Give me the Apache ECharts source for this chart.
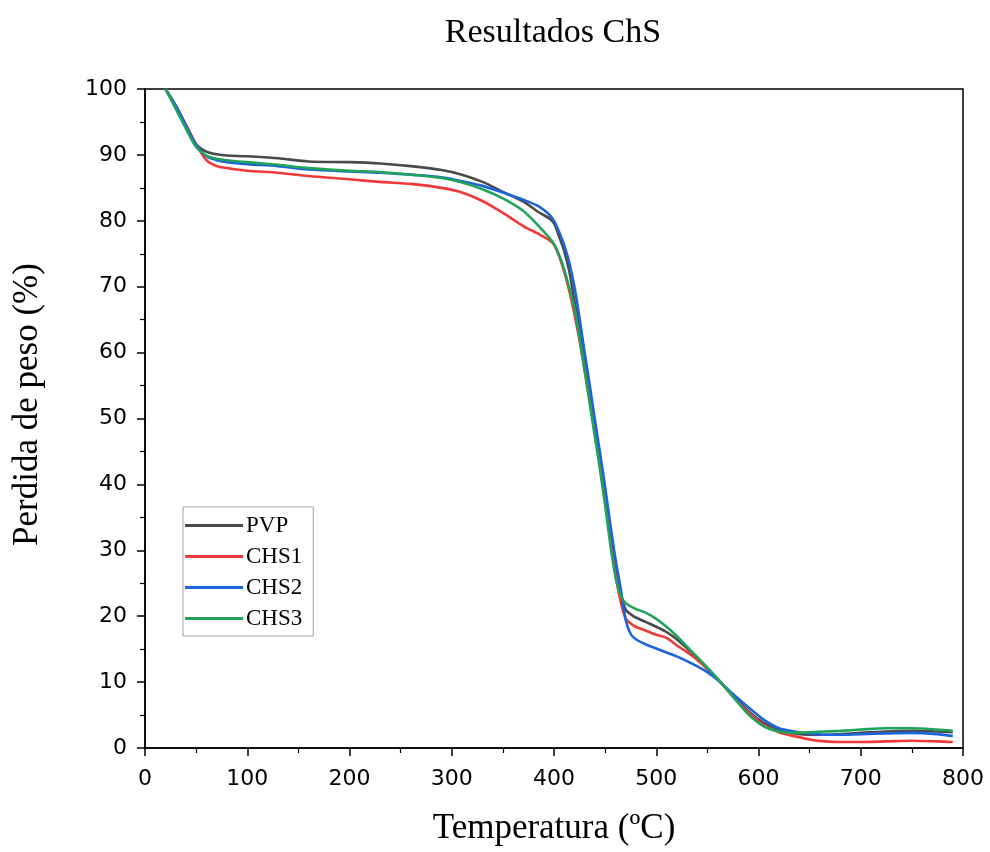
<!DOCTYPE html>
<html>
<head>
<meta charset="utf-8">
<script src="https://cdn.jsdelivr.net/npm/echarts@6/dist/echarts.min.js"></script>
<style>html,body{margin:0;padding:0;background:#fff}#c{width:990px;height:852px}</style>
</head>
<body>
<div id="c"></div>
<script>
const temps = [20,30,40,50,60,70,80,100,130,160,200,230,260,290,310,330,350,370,385,395,400,405,410,415,420,425,430,435,440,445,450,455,460,465,470,475,480,490,500,510,520,535,550,560,575,590,605,620,635,650,665,680,700,725,750,775,790];
const pvp  = [100,97.3,94.3,91.6,90.5,90.1,89.9,89.8,89.5,89.0,88.9,88.7,88.3,87.7,87.0,85.9,84.4,82.9,81.3,80.4,79.6,77.6,75.4,72.3,67.8,63.3,58.5,53.3,48.2,43.2,38.0,32.5,27.5,23.8,21.0,20.3,19.8,19.1,18.4,17.6,16.5,14.4,12.0,10.5,8.0,5.6,3.8,2.7,2.2,2.0,2.0,2.1,2.3,2.5,2.6,2.5,2.4];
const chs1 = [100,97.5,94.6,91.6,89.2,88.3,88.0,87.6,87.3,86.8,86.3,85.9,85.6,85.0,84.3,83.0,81.2,79.2,78.0,77.1,76.4,74.6,72.3,69.3,65.8,61.8,57.3,52.8,47.8,42.8,37.5,31.8,26.5,22.3,19.7,18.9,18.4,17.8,17.2,16.7,15.6,14.0,12.0,10.5,7.8,5.4,3.5,2.4,1.8,1.3,1.0,0.9,0.9,1.0,1.1,1.0,0.9];
const chs2 = [100,97.5,94.5,91.5,89.8,89.2,88.9,88.6,88.3,87.8,87.5,87.3,87.0,86.6,86.0,85.3,84.3,83.2,82.2,81.0,80.0,78.3,76.3,73.6,70.0,65.2,60.0,55.0,49.8,44.8,39.6,34.0,28.8,24.4,19.5,17.3,16.5,15.7,15.1,14.5,13.9,12.8,11.5,10.3,8.2,6.2,4.3,3.0,2.5,2.2,2.0,2.0,2.1,2.2,2.3,2.1,1.8];
const chs3 = [100,97.0,94.0,91.2,89.9,89.4,89.2,88.9,88.5,88.0,87.6,87.4,87.0,86.5,85.8,84.8,83.4,81.5,79.2,77.5,76.5,74.8,72.6,69.8,66.6,62.2,57.2,52.2,47.2,42.2,36.8,31.0,26.0,23.2,22.0,21.5,21.1,20.5,19.6,18.4,17.0,14.6,12.2,10.5,7.8,5.1,3.3,2.5,2.3,2.4,2.5,2.6,2.8,3.0,3.0,2.8,2.6];
const seriesNames = ['PVP','CHS1','CHS2','CHS3'];
const seriesColors = ['#4a4a4a','#f03a3a','#1c63de','#22a35c'];
const xTicks = [0,100,200,300,400,500,600,700,800];
const yTicks = [0,10,20,30,40,50,60,70,80,90,100];

const values = [pvp, chs1, chs2, chs3];
const chart = echarts.init(document.getElementById('c'), null, {renderer:'canvas'});
const axisFont = {fontFamily:'DejaVu Sans', fontSize:22, color:'#000'};
chart.setOption({
  animation:false,
  backgroundColor:'#fff',
  title:{text:'Resultados ChS', left:548, textAlign:'center', top:11,
    textStyle:{fontFamily:'Liberation Serif', fontSize:34, fontWeight:'normal', color:'#000'}},
  grid:{left:145, right:27, top:89, bottom:104, show:true, borderColor:'#000', borderWidth:1.5, backgroundColor:'transparent'},
  legend:{orient:'vertical', left:183, top:507, data:seriesNames,
    icon:'rect', itemWidth:58, itemHeight:3, itemGap:8, padding:[7,11,6,2],
    borderColor:'#a0a0a0', borderWidth:1,
    textStyle:{fontFamily:'Liberation Serif', fontSize:23, color:'#000', lineHeight:23, padding:[0,0,0,-2]}},
  xAxis:{type:'value', min:0, max:800, interval:100,
    name:'Temperatura (ºC)', nameLocation:'middle', nameGap:63,
    nameTextStyle:{fontFamily:'Liberation Serif', fontSize:35, color:'#000'},
    axisLine:{show:true, onZero:false, lineStyle:{color:'#000', width:1.5}},
    axisTick:{show:true, inside:false, length:8, lineStyle:{color:'#000', width:1.5}},
    minorTick:{show:true, splitNumber:2, length:5, lineStyle:{color:'#000', width:1.2}},
    axisLabel:Object.assign({margin:20, formatter:v=>xTicks.includes(v)?String(v):''}, axisFont),
    splitLine:{show:false}},
  yAxis:{type:'value', min:0, max:100, interval:10,
    name:'Perdida de peso (%)', nameLocation:'middle', nameGap:100, nameRotate:90,
    nameTextStyle:{fontFamily:'Liberation Serif', fontSize:35, color:'#000', padding:[0,0,0,28]},
    axisLine:{show:true, onZero:false, lineStyle:{color:'#000', width:1.5}},
    axisTick:{show:true, inside:false, length:8, lineStyle:{color:'#000', width:1.5}},
    minorTick:{show:true, splitNumber:2, length:5, lineStyle:{color:'#000', width:1.2}},
    axisLabel:Object.assign({margin:18, formatter:v=>yTicks.includes(v)?String(v):''}, axisFont),
    splitLine:{show:false}},
  series: seriesNames.map((n,i)=>({
    name:n, type:'line', symbol:'none', smooth:0.3,
    data: temps.map((t,k)=>[t, values[i][k]]),
    lineStyle:{color:seriesColors[i], width:2.6},
    itemStyle:{color:seriesColors[i]},
    z: 2+i
  }))
});
</script>
</body>
</html>
